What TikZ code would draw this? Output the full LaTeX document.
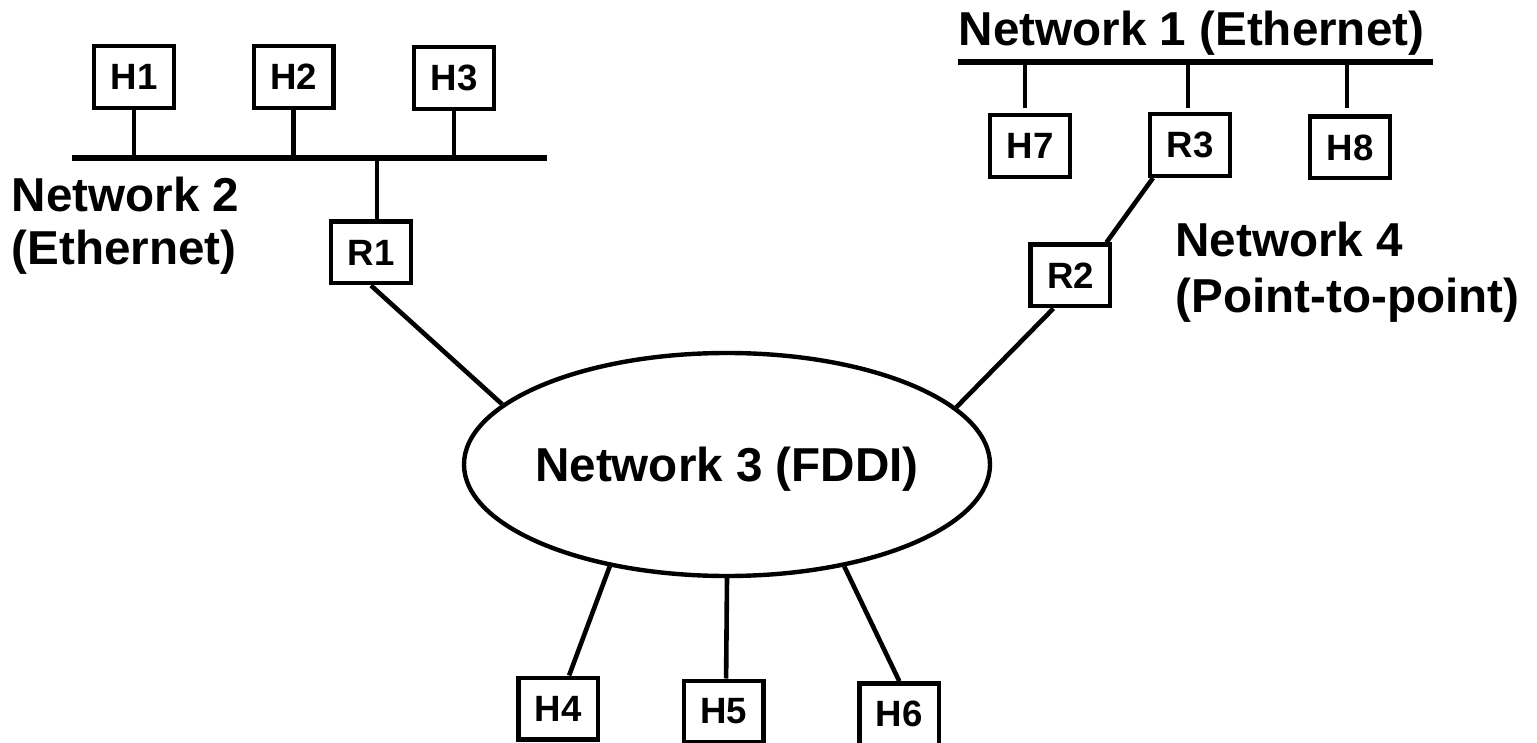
\documentclass[tikz,border=0pt]{standalone}
\usepackage{fontspec}
\setmainfont{Liberation Sans}
\usetikzlibrary{shapes.geometric}
\begin{document}
\begin{tikzpicture}[x=0.5pt,y=-0.5pt,
  box/.style={draw, line width=2.2pt, minimum width=39.8pt, minimum height=30.8pt,
    inner sep=0pt, font=\fontsize{18.3}{22}\selectfont\bfseries},
  link/.style={line width=2.3pt},
  bus/.style={line width=2.9pt},
  netlabel/.style={inner sep=0pt, anchor=base west,
    font=\fontsize{23.8}{28}\selectfont\bfseries},
]
% canvas
\fill[white] (0,0) rectangle (1537,743);
\useasboundingbox (0,0) rectangle (1537,743);
\clip (0,0) rectangle (1537,743);

% ---- Network 2 (Ethernet) ----
\node[box] (H1) at (134,77) {H1};
\node[box] (H2) at (293.5,77) {H2};
\node[box] (H3) at (454,78) {H3};
\node[box] (R1) at (371,252.5) {R1};
\coordinate (n2w) at (72,158);
\coordinate (n2e) at (547,158);
\draw[bus] (n2w) -- (n2e);
\draw[link] (H1.south) -- (H1.south |- n2w);
\draw[link] (H2.south) -- (H2.south |- n2w);
\draw[link] (H3.south) -- (H3.south |- n2w);
\draw[link] ([xshift=3pt]R1.north) -- ([xshift=3pt]R1.north |- n2w);
\node[netlabel] (net2a) at (11.5,212) {Network 2};
\node[netlabel] (net2b) at (11.5,265) {(Ethernet)};

% ---- Network 1 (Ethernet) ----
\node[box] (H7) at (1030,146) {H7};
\node[box] (R3) at (1190,145) {R3};
\node[box] (H8) at (1350,147.5) {H8};
\coordinate (n1w) at (958,62);
\coordinate (n1e) at (1433,62);
\draw[bus] (n1w) -- (n1e);
\draw[link, shorten <=2.5pt] ([xshift=-2.5pt]H7.north) -- ([xshift=-2.5pt]H7.north |- n1w);
\draw[link, shorten <=2pt] ([xshift=-1pt]R3.north) -- ([xshift=-1pt]R3.north |- n1w);
\draw[link, shorten <=3pt] ([xshift=-1.5pt]H8.north) -- ([xshift=-1.5pt]H8.north |- n1w);
\node[netlabel] (net1) at (958.4,46) {Network 1 (Ethernet)};

% ---- Network 4 (Point-to-point) ----
\node[box] (R2) at (1070.4,275.5) {R2};
\draw[link] ([xshift=2.5pt]R3.south west) -- ([xshift=-3pt]R2.north east);
\node[netlabel] (net4a) at (1175,257) {Network 4};
\node[netlabel] (net4b) at (1175.5,313) {(Point-to-point)};

% ---- Network 3 (FDDI) ----
\node[draw, ellipse, line width=2.2pt, minimum width=263pt, minimum height=111.5pt,
  inner sep=0pt] (net3) at (727,464.5) {};
\node[inner sep=0pt, text height=17pt, text depth=0pt,
  font=\fontsize{23.8}{28}\selectfont\bfseries] (net3label) at (net3.center) {Network 3 (FDDI)};
\node[box] (H4) at (558.3,708.5) {H4};
\node[box] (H5) at (723.7,711.5) {H5};
\node[box] (H6) at (899.3,714.2) {H6};

% ---- links to the ring ----
\draw[link] (R1.south) -- (net3.165);
\draw[link] ([xshift=-8.5pt]R2.south) -- (net3.14);
\draw[link] ([xshift=5.4pt]H4.north) -- (net3.-139);
\draw[link] ([xshift=1.2pt]H5.north) -- (net3.-90);
\draw[link] (H6.north) -- (net3.-41);
\end{tikzpicture}
\end{document}
